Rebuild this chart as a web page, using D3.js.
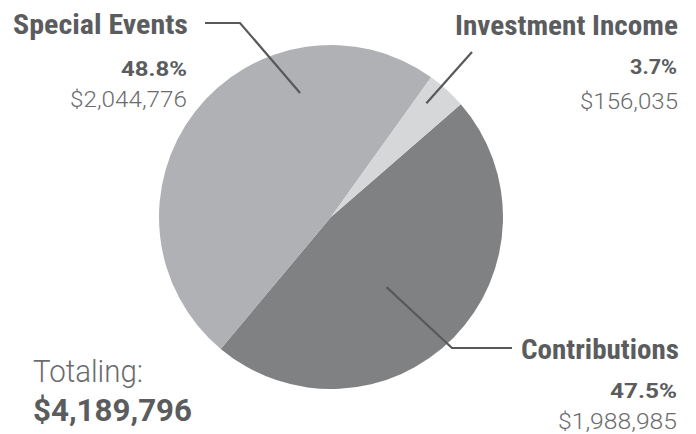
<!DOCTYPE html>
<html>
<head>
<meta charset="utf-8">
<script src="https://cdn.jsdelivr.net/npm/d3@7"></script>
<style>
  html, body { margin: 0; padding: 0; background: #fff; }
  .title { font-family: "Liberation Sans Narrow", "Roboto Condensed", "Roboto", sans-serif; font-weight: 700; fill: #5b5c5e; }
  .pct { font-family: "Roboto", "Liberation Sans", sans-serif; font-weight: 700; fill: #5b5c5e; }
  .amt { font-family: "Roboto", "Lato", sans-serif; font-weight: 300; fill: #6b6c6e; }
</style>
</head>
<body>
<div class="chart"></div>
<script>
(() => {
    // data
    const categories = ['Contributions', 'Special Events', 'Investment Income'];
    const amounts = [1988985, 2044776, 156035];
    const percentLabels = ['47.5%', '48.8%', '3.7%'];
    const amountLabels = ['$1,988,985', '$2,044,776', '$156,035'];
    const totalCaption = 'Totaling:';
    const totalLabel = '$4,189,796';

    const width = 696,
          height = 434,
          cx = 331,
          cy = 217,
          radius = 172;

    const deg = Math.PI / 180;
    const start = 49 * deg;

    const svg = d3.select('.chart')
        .append('svg')
        .attr('width', width)
        .attr('height', height);

    const color = d3.scaleOrdinal()
        .domain(categories)
        .range(['#808183', '#b0b1b4', '#d6d7d9']);

    const pieData = categories.map((c, i) => ({ category: c, amount: amounts[i], pct: percentLabels[i], amt: amountLabels[i] }));

    const pie = d3.pie()
        .sort(null)
        .value(d => d.amount)
        .startAngle(start)
        .endAngle(start + 2 * Math.PI);

    const arc = d3.arc()
        .innerRadius(0)
        .outerRadius(radius);

    const g = svg.append('g')
        .attr('transform', `translate(${cx},${cy})`);

    g.selectAll('path')
        .data(pie(pieData))
        .enter().append('path')
        .attr('d', arc)
        .attr('fill', d => color(d.data.category));

    // label layout: [right edge, baseline, width, font size], leader points
    const layout = {
        'Special Events': {
            title: [188, 34, 175, 27], pct: [187, 76, 66, 20], amt: [187, 107, 117, 22],
            inner: [346, 0.743], outer: [[240, 23], [205, 23]]
        },
        'Investment Income': {
            title: [678, 35, 223, 27], pct: [677, 74, 47, 20], amt: [678, 109, 98, 22],
            inner: [40, 0.863], outer: [[472, 52]]
        },
        'Contributions': {
            title: [679, 359, 158, 28], pct: [677, 398, 67, 20], amt: [677, 429, 119, 22],
            inner: [141.6, 0.52], outer: [[452, 348], [512, 348]]
        }
    };

    const polar = (a, f) => [cx + Math.sin(a * deg) * f * radius, cy - Math.cos(a * deg) * f * radius];

    const line = d3.line();

    pieData.forEach(d => {
        const L = layout[d.category];
        const pts = [polar(L.inner[0], L.inner[1])].concat(L.outer);
        svg.append('path')
            .attr('d', line(pts))
            .attr('fill', 'none')
            .attr('stroke', '#58595b')
            .attr('stroke-width', 2.2);

        [['title', d.category], ['pct', d.pct], ['amt', d.amt]].forEach(([cls, txt]) => {
            const [x, y, w, fs] = L[cls];
            svg.append('text')
                .attr('class', cls)
                .attr('x', x - w)
                .attr('y', y)
                .attr('font-size', fs)
                .attr('textLength', w)
                .attr('lengthAdjust', 'spacingAndGlyphs')
                .text(txt);
        });
    });

    svg.append('text')
        .attr('class', 'amt')
        .attr('x', 33)
        .attr('y', 382)
        .attr('font-size', 32)
        .attr('textLength', 110)
        .attr('lengthAdjust', 'spacingAndGlyphs')
        .text(totalCaption);

    svg.append('text')
        .attr('class', 'pct')
        .attr('x', 33)
        .attr('y', 421)
        .attr('font-size', 32)
        .attr('textLength', 159)
        .attr('lengthAdjust', 'spacingAndGlyphs')
        .text(totalLabel);
})();
</script>
</body>
</html>
